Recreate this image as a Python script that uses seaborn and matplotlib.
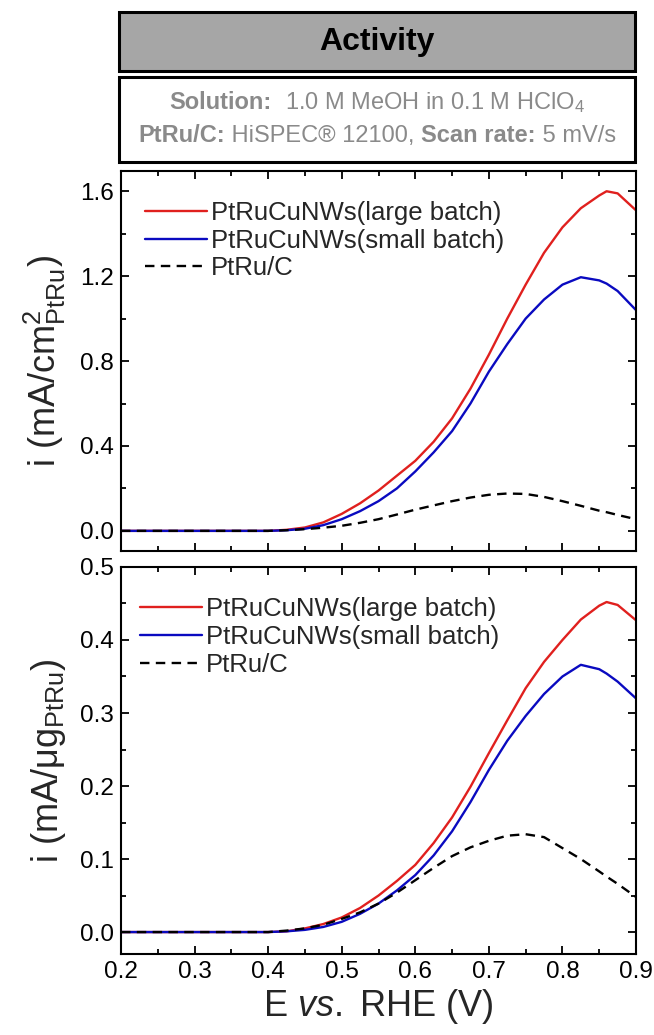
import matplotlib
matplotlib.use("Agg")
import matplotlib.pyplot as plt
import seaborn as sns
import pandas as pd
from matplotlib.ticker import MultipleLocator, FormatStrFormatter
from matplotlib.patches import Rectangle
from matplotlib.offsetbox import TextArea, HPacker, AnchoredOffsetbox

# ---------------- data ----------------
E = [0.20, 0.30, 0.40, 0.425, 0.45, 0.475, 0.50, 0.525, 0.55, 0.575, 0.60, 0.625,
     0.65, 0.675, 0.70, 0.725, 0.75, 0.775, 0.80, 0.825, 0.85, 0.86, 0.875, 0.90]

area_large = [0.0, 0.0, 0.0, 0.005, 0.016, 0.040, 0.080, 0.13, 0.19, 0.26, 0.33, 0.42,
              0.53, 0.67, 0.83, 1.00, 1.16, 1.31, 1.43, 1.52, 1.58, 1.60, 1.59, 1.51]
area_small = [0.0, 0.0, 0.0, 0.003, 0.010, 0.027, 0.055, 0.093, 0.14, 0.20, 0.28, 0.37,
              0.47, 0.60, 0.75, 0.88, 1.00, 1.09, 1.16, 1.195, 1.18, 1.165, 1.13, 1.04]
area_ptruc = [0.0, 0.0, 0.0, 0.003, 0.008, 0.015, 0.024, 0.038, 0.055, 0.077, 0.10, 0.12,
              0.14, 0.157, 0.17, 0.176, 0.174, 0.16, 0.14, 0.118, 0.095, 0.088, 0.075, 0.055]

mass_large = [0.0, 0.0, 0.0, 0.001, 0.005, 0.011, 0.020, 0.033, 0.050, 0.070, 0.092, 0.122,
              0.157, 0.199, 0.245, 0.290, 0.334, 0.370, 0.400, 0.428, 0.447, 0.452, 0.448, 0.427]
mass_small = [0.0, 0.0, 0.0, 0.001, 0.003, 0.007, 0.014, 0.025, 0.039, 0.057, 0.078, 0.105,
              0.138, 0.178, 0.222, 0.262, 0.296, 0.326, 0.350, 0.366, 0.360, 0.354, 0.343, 0.320]
mass_ptruc = [0.0, 0.0, 0.0, 0.002, 0.005, 0.010, 0.018, 0.027, 0.039, 0.054, 0.071, 0.088,
              0.104, 0.116, 0.125, 0.132, 0.134, 0.130, 0.115, 0.100, 0.083, 0.076, 0.066, 0.048]

labels = ["PtRuCuNWs(large batch)", "PtRuCuNWs(small batch)", "PtRu/C"]
colors = ["#e0201e", "#0a0ac0", "black"]
styles = ["-", "-", (0, (4, 2.7))]

# ---------------- style ----------------
sns.set_style("ticks")
plt.rcParams['font.family'] = ['Liberation Sans', 'DejaVu Sans']
plt.rcParams['mathtext.fontset'] = 'custom'
plt.rcParams['mathtext.rm'] = 'Liberation Sans'
plt.rcParams['mathtext.it'] = 'Liberation Sans:italic'
plt.rcParams['mathtext.bf'] = 'Liberation Sans:bold'

fig = plt.figure(figsize=(6.54, 10.35), dpi=100)

ax1 = fig.add_axes([0.1850, 0.4676, 0.7875, 0.3671])
ax2 = fig.add_axes([0.1850, 0.0783, 0.7875, 0.3739])

def draw(ax, series, leg_x):
    for ys, lab, c, ls in zip(series, labels, colors, styles):
        df = pd.DataFrame({"E": E, "i": ys})
        sns.lineplot(data=df, x="E", y="i", ax=ax, color=c, linestyle=ls,
                     linewidth=1.7, label=lab)
    ax.set_xlim(0.2, 0.9)
    ax.xaxis.set_major_locator(MultipleLocator(0.1))
    ax.xaxis.set_minor_locator(MultipleLocator(0.05))
    ax.tick_params(which='both', direction='in', top=True, right=True,
                   labelsize=17.5, width=1.3, colors='black', pad=5)
    ax.tick_params(which='major', length=6)
    ax.tick_params(which='minor', length=3.5)
    for s in ax.spines.values():
        s.set_linewidth(1.5)
        s.set_color('black')
    ax.legend(loc='upper left', bbox_to_anchor=(leg_x, 0.922), frameon=False,
              fontsize=18.5, handlelength=2.4, handletextpad=0.15,
              labelspacing=0.15, borderaxespad=0.0, borderpad=0.0)

draw(ax1, [area_large, area_small, area_ptruc], 0.047)
ax1.set_ylim(-0.095, 1.695)
ax1.yaxis.set_major_locator(MultipleLocator(0.4))
ax1.yaxis.set_minor_locator(MultipleLocator(0.2))
ax1.yaxis.set_major_formatter(FormatStrFormatter('%.1f'))
ax1.set_xlabel("")
ax1.tick_params(labelbottom=False)
ax1.set_ylabel(r"i (mA/cm$^{2}_{\mathrm{PtRu}}$)", fontsize=26, labelpad=9)

draw(ax2, [mass_large, mass_small, mass_ptruc], 0.037)
ax2.set_ylim(-0.030, 0.5)
ax2.yaxis.set_major_locator(MultipleLocator(0.1))
ax2.yaxis.set_minor_locator(MultipleLocator(0.05))
ax2.yaxis.set_major_formatter(FormatStrFormatter('%.1f'))
ax2.xaxis.set_major_formatter(FormatStrFormatter('%.1f'))
ax2.set_ylabel(r"i (mA/μg$_{\mathrm{PtRu}}$)", fontsize=26, labelpad=9)
ax2.set_xlabel(r"E $\mathit{vs.}$ RHE (V)", fontsize=26, labelpad=3)

# ---------------- header boxes ----------------
bx, bw = 0.1820, 0.789
fig.patches.append(Rectangle((bx, 0.9314), bw, 0.0570, transform=fig.transFigure,
                             facecolor="#a6a6a6", edgecolor="black", linewidth=2.2))
fig.text(bx + bw / 2, 0.9599, "Activity", ha='center', va='center',
         fontsize=23, fontweight='bold', color='black')
fig.patches.append(Rectangle((bx, 0.8435), bw, 0.0821, transform=fig.transFigure,
                             facecolor="white", edgecolor="black", linewidth=2.2))

gray = "#8a8a8a"
fs_info = 17

def info_line(parts, y):
    boxes = []
    for txt, bold in parts:
        boxes.append(TextArea(txt, textprops=dict(color=gray, fontsize=fs_info,
                                                  fontweight='bold' if bold else 'normal')))
    pack = HPacker(children=boxes, align="baseline", pad=0, sep=0)
    anc = AnchoredOffsetbox(loc='center', child=pack, frameon=False, pad=0,
                            bbox_to_anchor=(bx + bw / 2, y),
                            bbox_transform=fig.transFigure, borderpad=0)
    fig.add_artist(anc)

info_line([("Solution:", True), ("  1.0 M MeOH in 0.1 M HClO$_4$", False)], 0.9010)
info_line([("PtRu/C:", True), (" HiSPEC® 12100, ", False), ("Scan rate:", True),
           (" 5 mV/s", False)], 0.8695)

fig.savefig("out.png", dpi=100)
